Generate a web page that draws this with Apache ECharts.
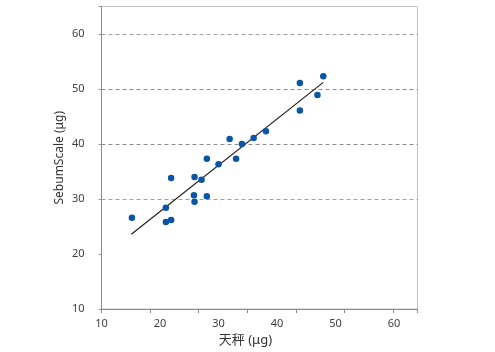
<!DOCTYPE html>
<html>
<head>
<meta charset="utf-8">
<script src="https://cdn.jsdelivr.net/npm/echarts@6/dist/echarts.min.js"></script>
<style>
html,body{margin:0;padding:0;background:#fff;}
#chart{width:495px;height:352px;}
</style>
</head>
<body>
<div id="chart"></div>
<script>
// Data
const balanceX = [15.2, 21.0, 21.0, 21.9, 21.9, 25.9, 27.1, 25.8, 25.9, 28.0, 28.0, 30.0, 33.0, 31.9, 34.0, 36.0, 38.1, 43.9, 43.9, 46.9, 47.9];
const sebumY   = [26.6, 28.4, 25.8, 26.2, 33.8, 34.0, 33.5, 30.7, 29.5, 30.5, 37.3, 36.3, 37.3, 40.9, 40.0, 41.1, 42.3, 46.1, 51.1, 48.9, 52.3];
const trendX = [15.1, 47.9];
const trendY = [23.6, 51.2];
const xTicks = [10, 20, 30, 40, 50, 60];
const yTicks = [10, 20, 30, 40, 50, 60];

const FONT = "'Noto Sans', 'Noto Sans CJK SC', sans-serif";
const chart = echarts.init(document.getElementById('chart'));
const pts = balanceX.map((x, i) => [x, sebumY[i]]);
const trend = trendX.map((x, i) => [x, trendY[i]]);

chart.setOption({
  animation: false,
  backgroundColor: '#ffffff',
  textStyle: { fontFamily: FONT },
  grid: {
    left: 101.5, top: 6.5, width: 316, height: 302.5,
    show: true, borderColor: '#c4c4c4', borderWidth: 1, backgroundColor: 'transparent'
  },
  xAxis: [{
    type: 'value', min: 10, max: 64, interval: 10,
    name: '天秤 (μg)', nameLocation: 'middle', nameGap: 24,
    nameTextStyle: { fontSize: 13, color: '#333', fontFamily: FONT, padding: [0, 28, 0, 0] },
    axisLine: { show: true, lineStyle: { color: '#8a8a8a', width: 1 } },
    axisTick: { show: false },
    axisLabel: {
      margin: 9, fontSize: 11, color: '#404040', fontFamily: FONT,
      formatter: v => (xTicks.indexOf(v) >= 0 ? String(v) : '')
    },
    splitLine: { show: false }
  }, {
    type: 'value', min: 0, max: 6.5, interval: 1, position: 'bottom',
    axisLine: { show: false },
    axisTick: { show: true, length: 4, lineStyle: { color: '#8a8a8a' } },
    axisLabel: { show: false },
    splitLine: { show: false }
  }],
  yAxis: {
    type: 'value', min: 10, max: 65, interval: 10,
    name: 'SebumScale (μg)', nameLocation: 'middle', nameGap: 36, nameRotate: 90,
    nameMoveOverlap: false,
    nameTextStyle: { fontSize: 12, color: '#333', fontFamily: FONT },
    axisLine: { show: true, lineStyle: { color: '#8a8a8a', width: 1 } },
    axisTick: { show: true, length: 3, lineStyle: { color: '#9a9a9a' } },
    axisLabel: {
      margin: 17, fontSize: 11, color: '#404040', fontFamily: FONT,
      formatter: v => (yTicks.indexOf(v) >= 0 ? String(v) : '')
    },
    splitLine: {
      show: true,
      lineStyle: {
        color: ['transparent', 'transparent', '#a0a0a0', '#8c8c8c', '#8c8c8c', '#a0a0a0', 'transparent', 'transparent'],
        type: [4, 3], width: 1
      }
    }
  },
  series: [{
    type: 'line', xAxisIndex: 0, data: trend, symbol: 'none', silent: true,
    lineStyle: { color: '#231f20', width: 1.2 }, z: 2
  }, {
    type: 'scatter', xAxisIndex: 0, data: pts, symbol: 'circle', symbolSize: 6.5,
    itemStyle: { color: '#0a55a6', opacity: 1 }, z: 3
  }]
});
</script>
</body>
</html>
